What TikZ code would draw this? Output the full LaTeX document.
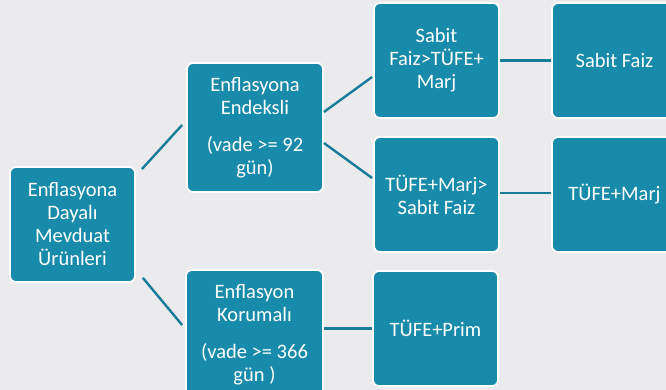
\documentclass[tikz,border=0pt]{standalone}
\usepackage{fontspec}
\setmainfont{Carlito}
\usetikzlibrary{calc}
\definecolor{bg}{HTML}{EBEBED}
\definecolor{boxfill}{HTML}{188AAA}
\definecolor{conn}{HTML}{167C98}
\begin{document}
\begin{tikzpicture}[x=1pt,y=-1pt,
  box/.style={draw=white, line width=1.8pt, fill=boxfill, rounded corners=6pt,
    text=white, align=center, inner sep=2pt,
    font=\fontsize{20.5}{23}\selectfont},
  link/.style={draw=conn, line width=2.4pt}]
\useasboundingbox (0,0) rectangle (666,390);
\fill[bg] (0,0) rectangle (666,390);
\clip (0,0) rectangle (666,390);
\node[box, minimum width=125pt, minimum height=115pt] (root) at (72.5,224.5)
  {Enflasyona\\Dayalı\\Mevduat\\Ürünleri};
\node[box, minimum width=136pt, minimum height=129pt] (endeksli) at (255,127.5)
  {Enflasyona\\Endeksli\\[14pt](vade >= 92\\gün)};
\node[box, minimum width=125pt, minimum height=115pt] (sfm) at (436.5,60.5)
  {Sabit\\Faiz>TÜFE+\\Marj};
\node[box, minimum width=125pt, minimum height=115pt] (sf) at (614.5,60.5)
  {Sabit Faiz};
\node[box, minimum width=125pt, minimum height=115pt] (tms) at (436.5,194.5)
  {TÜFE+Marj>\\Sabit Faiz};
\node[box, minimum width=125pt, minimum height=115pt] (tm) at (614.5,194.5)
  {TÜFE+Marj};
\node[box, minimum width=137pt, minimum height=129pt] (korumali) at (254.5,334.5)
  {Enflasyon\\Korumalı\\[14pt](vade >= 366\\gün )};
\node[box, minimum width=125pt, minimum height=115pt] (prim) at (435.5,328.5)
  {TÜFE+Prim};
\draw[link] ($(root.north east)+(6,3)$) -- ($(endeksli.west)+(-4,-2.5)$);
\draw[link] ($(root.south east)+(7,-5)$) -- ($(korumali.west)+(-3,-9.5)$);
\draw[link] ($(endeksli.east)+(0,-15.5)$) -- ($(sfm.west)+(-1,16.5)$);
\draw[link] ($(endeksli.east)+(0,15.5)$) -- ($(tms.west)+(-1,-16.5)$);
\draw[link] (sfm.east) -- (sf.west);
\draw[link] ($(tms.east)+(0,-1.5)$) -- ($(tm.west)+(0,-1.5)$);
\draw[link] (korumali.east |- prim.west) -- (prim.west);
\end{tikzpicture}
\end{document}
